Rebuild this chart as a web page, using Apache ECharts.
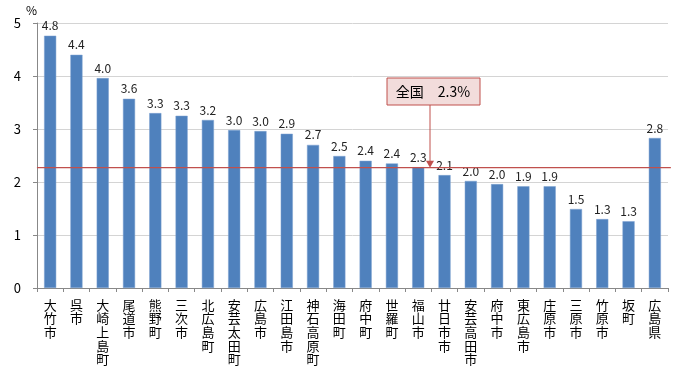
<!DOCTYPE html>
<html><head><meta charset="utf-8">
<script src="https://cdn.jsdelivr.net/npm/echarts@6/dist/echarts.min.js"></script>
<style>html,body{margin:0;padding:0;background:#fff}#c{width:700px;height:368px}</style>
</head><body><div id="c"></div>
<script>
const categories = ['大竹市','呉市','大崎上島町','尾道市','熊野町','三次市','北広島町','安芸太田町','広島市','江田島市','神石高原町','海田町','府中町','世羅町','福山市','廿日市市','安芸高田市','府中市','東広島市','庄原市','三原市','竹原市','坂町','広島県'];
const values = [4.76,4.40,3.96,3.57,3.30,3.25,3.17,2.98,2.96,2.91,2.70,2.49,2.40,2.35,2.28,2.13,2.02,1.96,1.92,1.92,1.49,1.30,1.26,2.83];
const nationalValue = 2.27;
const nationalLabel = '全国　2.3%';
const yTicks = [0,1,2,3,4,5];

const font = '"Noto Sans CJK JP", "Noto Sans", sans-serif';
const chart = echarts.init(document.getElementById('c'));
chart.setOption({
  animation: false,
  grid: {left: 37, right: 32, top: 23, bottom: 80, containLabel: false, outerBoundsMode: 'none'},
  xAxis: {
    type: 'category', data: categories, boundaryGap: true,
    axisLine: {lineStyle: {color: '#888'}},
    axisTick: {show: true, length: 4, lineStyle: {color: '#888'}},
    axisLabel: {interval: 0, color: '#000', fontSize: 13, fontFamily: font, lineHeight: 13.6, margin: 10,
      formatter: v => v.split('').join('\n')}
  },
  yAxis: {
    type: 'value', min: 0, max: 5, interval: 1,
    name: '%', nameLocation: 'end', nameGap: 4,
    nameTextStyle: {color: '#000', fontSize: 12, fontFamily: font, align: 'right'},
    axisLine: {show: true, lineStyle: {color: '#888'}},
    axisTick: {show: true, length: 4, lineStyle: {color: '#888'}},
    axisLabel: {color: '#000', fontSize: 13, fontFamily: font, margin: 16,
      formatter: v => yTicks.includes(v) ? String(v) : ''},
    splitLine: {lineStyle: {color: '#d4d4d4'}}
  },
  series: [{
    type: 'bar', data: values, barWidth: '46%',
    itemStyle: {color: '#4f81bd', borderColor: '#7da1d0', borderWidth: 0.5},
    label: {show: true, position: 'top', distance: 4, color: '#222', fontSize: 12, fontFamily: font,
      formatter: p => p.value.toFixed(1)}
  }]
});

const lineY = chart.convertToPixel({yAxisIndex: 0}, nationalValue);
const x0 = chart.convertToPixel({xAxisIndex: 0}, categories[0]) - 13.2;
const x1 = chart.convertToPixel({xAxisIndex: 0}, categories[categories.length - 1]) + 16;
const ax = 430;
chart.setOption({
  graphic: [
    {type: 'line', z: 100, shape: {x1: x0, y1: lineY, x2: x1, y2: lineY},
     style: {stroke: '#c0504d', lineWidth: 1.3}},
    {type: 'rect', z: 100, shape: {x: 387, y: 78, width: 93, height: 27},
     style: {fill: '#f2dcdb', stroke: '#c0504d', lineWidth: 1}},
    {type: 'text', z: 101, x: 433, y: 91.5,
     style: {text: nationalLabel, fill: '#000', font: '14px ' + font, align: 'center', verticalAlign: 'middle'}},
    {type: 'line', z: 100, shape: {x1: ax, y1: 105, x2: ax, y2: lineY - 2},
     style: {stroke: '#c0504d', lineWidth: 1}},
    {type: 'polygon', z: 100, shape: {points: [[ax - 4, lineY - 7], [ax + 4, lineY - 7], [ax, lineY]]},
     style: {fill: '#c0504d'}}
  ]
});
</script></body></html>
